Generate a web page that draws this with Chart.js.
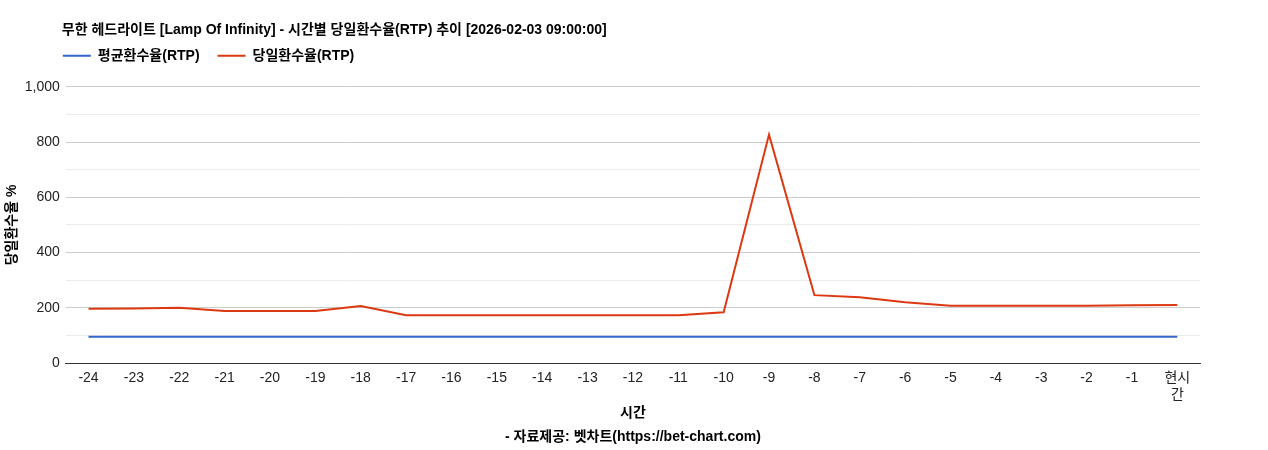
<!DOCTYPE html>
<html lang="ko">
<head>
<meta charset="utf-8">
<script src="https://cdn.jsdelivr.net/npm/chart.js@4"></script>
<style>
  html, body { margin:0; padding:0; background:#fff; }
  #wrap { width:1268px; height:450px; position:relative; }
</style>
</head>
<body>
<div id="wrap"><canvas id="chart-rtp"></canvas></div>
<script>
// 시간축 (현시간은 두 줄로 표시)
const hours = ['-24','-23','-22','-21','-20','-19','-18','-17','-16','-15','-14','-13','-12',
               '-11','-10','-9','-8','-7','-6','-5','-4','-3','-2','-1',['현시','간']];
// 평균환수율(RTP)
const avgRtp = [95,95,95,95,95,95,95,95,95,95,95,95,95,95,95,95,95,95,95,95,95,95,95,95,95];
// 당일환수율(RTP)
const dailyRtp = [197,198,200,189,189,189,207,173,173,173,173,173,173,173,184,827,246,238,220,208,208,208,208,209,210];
const yTicks = [0,200,400,600,800,1000];

Chart.defaults.font.family = "'Liberation Sans', Arial, 'Noto Sans CJK KR', sans-serif";
Chart.defaults.color = '#222';

// 제목/범례를 차트 영역 왼쪽 끝에 맞추고 범례를 제목 바로 아래로 당김
const headerShift = {
  id:'headerShift',
  afterLayout(chart) {
    const lg = chart.legend;
    if (lg) { lg.left = chart.chartArea.left - 21; lg.top -= 14; }
    const tb = chart.titleBlock;
    if (tb) { tb.left = chart.chartArea.left - 4; }
  }
};

const ctx = document.getElementById('chart-rtp');
new Chart(ctx, {
  type:'line',
  data:{
    labels: hours,
    datasets:[
      { label:'평균환수율(RTP)', data: avgRtp, borderColor:'#3366cc', backgroundColor:'#3366cc', borderWidth:2, pointRadius:0, tension:0 },
      { label:'당일환수율(RTP)', data: dailyRtp, borderColor:'#dc3912', backgroundColor:'#dc3912', borderWidth:2, pointRadius:0, tension:0 }
    ]
  },
  plugins:[headerShift],
  options:{
    responsive:true, maintainAspectRatio:false, animation:false,
    layout:{ padding:{ top:22, left:4, right:68, bottom:4 } },
    plugins:{
      title:{
        display:true, fullSize:false, align:'start', color:'#000',
        text:'무한 헤드라이트 [Lamp Of Infinity] - 시간별 당일환수율(RTP) 추이 [2026-02-03 09:00:00]',
        font:{ size:14, weight:'bold' }, padding:{ top:0, bottom:6 }
      },
      subtitle:{
        display:true, fullSize:false, position:'bottom', color:'#000',
        text:'- 자료제공: 벳차트(https://bet-chart.com)',
        font:{ size:14, weight:'bold' }, padding:{ top:8, bottom:0 }
      },
      legend:{
        display:true, fullSize:false, align:'start', position:'top',
        labels:{ usePointStyle:true, pointStyle:'line', pointStyleWidth:28, padding:18, color:'#000',
                 font:{ size:14, weight:'bold' } }
      },
      tooltip:{ enabled:false }
    },
    scales:{
      x:{
        offset:true,
        grid:{ display:false, drawTicks:false },
        border:{ display:true, color:'#333', width:1 },
        ticks:{ font:{ size:14, lineHeight:1.26 }, color:'#222', maxRotation:0, autoSkip:false, padding:6 },
        title:{ display:true, text:'시간', color:'#000', font:{ size:14, weight:'bold' }, padding:{ top:-6, bottom:0 } }
      },
      y:{
        min:0, max:1000,
        grid:{ drawTicks:false, color: c => (c.tick && c.tick.value % 200 === 0) ? '#cccccc' : '#ebebeb' },
        border:{ display:false },
        ticks:{
          stepSize:100, padding:6, font:{ size:14 }, color:'#222',
          callback: v => yTicks.includes(v) ? v.toLocaleString('en-US') : ''
        },
        title:{ display:true, text:'당일환수율 %', color:'#000', font:{ size:14, weight:'bold' }, padding:{ top:0, bottom:-2 } }
      }
    }
  }
});
</script>
</body>
</html>
